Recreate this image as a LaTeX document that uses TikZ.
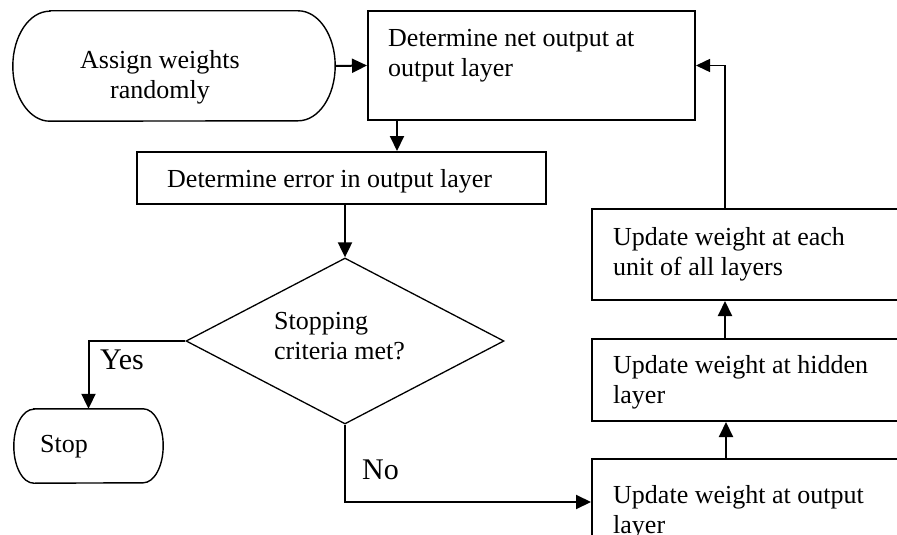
\documentclass[tikz,border=0pt]{standalone}
\usepackage{fontspec}
\setmainfont{Liberation Serif}
\usetikzlibrary{shapes.geometric,arrows.meta,calc}

% outline of a terminal (start/stop) node: straight top and bottom, elliptic ends
\newcommand\termoutline[3]{%
  \draw[termline] ($(#1.north west)+(#2,0)$) -- ($(#1.north east)+(-#2,0)$)
    arc[start angle=-90,end angle=90,x radius=#2,y radius=#3]
    -- ($(#1.south west)+(#2,0)$)
    arc[start angle=90,end angle=270,x radius=#2,y radius=#3] -- cycle;}

\begin{document}
\begin{tikzpicture}[x=1pt,y=-1pt,
  box/.style={draw, line width=2pt, rectangle, inner sep=0pt},
  term/.style={rectangle, inner sep=0pt},
  termline/.style={line width=1.4pt},
  decision/.style={draw, diamond, line width=1.3pt, inner sep=0pt},
  txt/.style={anchor=north west, inner sep=0pt, align=left, font=\fontsize{26}{30}\selectfont},
  lbl/.style={anchor=north west, inner sep=0pt, font=\fontsize{30}{34}\selectfont},
  arr/.style={line width=2pt, -{Triangle[length=15pt,width=14pt]}},
  thin arr/.style={line width=1.5pt, -{Triangle[length=14pt,width=13pt]}}]

\useasboundingbox (0,0) rectangle (897,535);
\clip (0,0) rectangle (897,535);

% start and forward pass
\node[term, minimum width=322pt, minimum height=110pt] (assign) at (174,66) {};
\termoutline{assign}{37}{55}
\node[txt, anchor=north, align=center] (assignT) at (160,50) {Assign weights\\randomly};

\node[box, minimum width=327pt, minimum height=109pt] (net) at (531.5,65.5) {};
\node[txt] (netT) at (388,29) {Determine net output at\\output layer};

\node[box, minimum width=409pt, minimum height=52pt] (err) at (341.5,178) {};
\node[txt] (errT) at (167,169) {Determine error in output layer};

% decision
\node[decision, minimum width=318pt, minimum height=166pt] (crit) at (345,341) {};
\node[txt] (critT) at (274,312) {Stopping\\criteria met?};

\node[term, minimum width=149pt, minimum height=74pt] (stop) at (88.5,446) {};
\termoutline{stop}{20}{37}
\node[txt] (stopT) at (40,435.4) {Stop};

% weight updates
\node[box, minimum width=313pt, minimum height=86pt] (upout) at (748.5,502) {};
\node[txt] (upoutT) at (613,485) {Update weight at output\\layer};

\node[box, minimum width=313pt, minimum height=82pt] (uphid) at (748.5,380) {};
\node[txt] (uphidT) at (613,355) {Update weight at hidden\\layer};

\node[box, minimum width=313pt, minimum height=91pt] (upall) at (748.5,254.5) {};
\node[txt] (upallT) at (613,227) {Update weight at each\\unit of all layers};

% branch labels
\node[lbl] (yes) at (100,350) {Yes};
\node[lbl] (no) at (362,460) {No};

% connectors
\draw[arr] (assign.east) -- (net.west);
\coordinate (n1) at ($(net.south west)+(30,0)$);
\draw[arr] (n1) -- (n1 |- err.north);
\draw[arr] (err.south -| crit.north) -- (crit.north);
\draw[arr] (crit.west) -| (stop.north);
\draw[arr] (crit.south) |- (upout.west);
\coordinate (c1) at ($(upout.north west)+(135,0)$);
\draw[arr] (c1) -- (c1 |- uphid.south);
\coordinate (c2) at ($(uphid.north west)+(134,0)$);
\draw[arr] (c2) -- (c2 |- upall.south);
\coordinate (c3) at ($(upall.north west)+(134,0)$);
\draw[thin arr] (c3) |- (net.east);
\end{tikzpicture}
\end{document}
